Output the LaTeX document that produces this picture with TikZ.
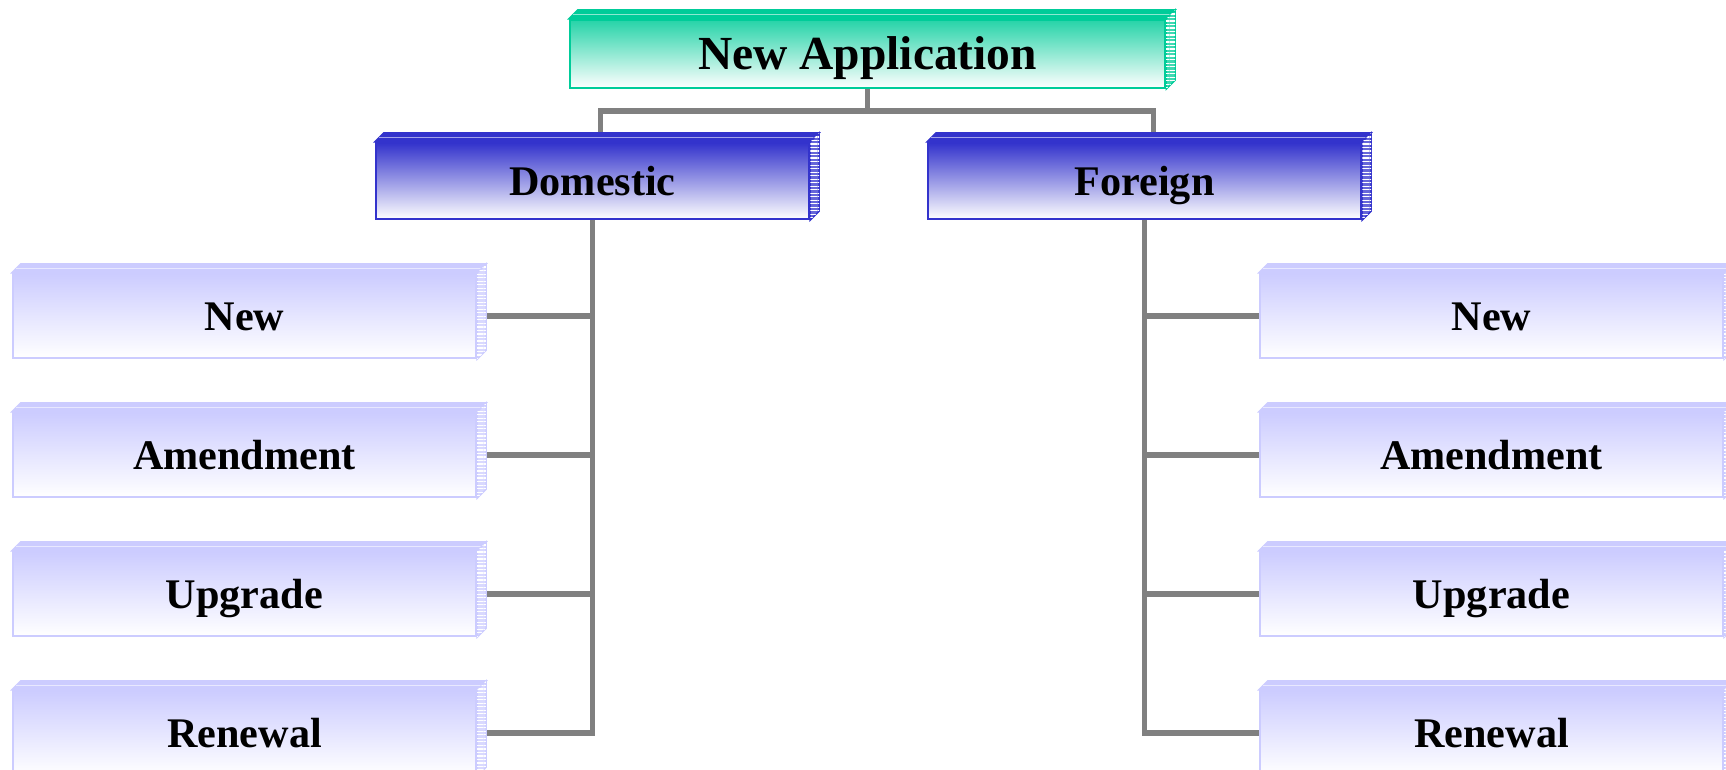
\documentclass[tikz,border=0pt]{standalone}
\usepackage{fontspec}
\setmainfont{Liberation Serif}
\usetikzlibrary{patterns.meta}

\definecolor{appcol}{HTML}{00CC99}
\definecolor{groupcol}{HTML}{3333CC}
\definecolor{leafcol}{HTML}{CCCCFF}
\definecolor{linkcol}{HTML}{808080}

\begin{document}
\begin{tikzpicture}[
    x=0.01cm, y=-0.01cm,
    box/.style={draw, line width=0.6pt, inner sep=0pt,
        text height=1.07em, text depth=0.25em},
    appbox/.style={box, draw=appcol, top color=appcol!85, bottom color=white,
        minimum width=5.95cm, minimum height=0.68cm, text height=1.14em,
        font=\bfseries\fontsize{13.5}{16}\selectfont},
    groupbox/.style={box, draw=groupcol, top color=groupcol, bottom color=white,
        minimum width=4.33cm, minimum height=0.76cm,
        font=\bfseries\fontsize{12}{14}\selectfont},
    leafbox/.style={box, draw=leafcol, top color=leafcol, bottom color=white,
        minimum width=4.63cm, minimum height=0.84cm,
        font=\bfseries\fontsize{12}{14}\selectfont},
    link/.style={draw=linkcol, line width=1.5pt}
]

\path[use as bounding box, fill=white] (0,0) rectangle (1726,770);

\node[appbox] (app) at (867.5,54) {New Application};

\node[groupbox] (dom) at (592.5,181) {Domestic};
\node[groupbox] (for) at (1144.5,181) {Foreign};

\foreach \lbl [count=\i] in {New, Amendment, Upgrade, Renewal} {
  \node[leafbox] (dl\i) at (244.5,177+139*\i) {\lbl};
  \node[leafbox] (fl\i) at (1491.5,177+139*\i) {\lbl};
}

% tree lines
\draw[link] (app.south) -- ++(0,22) coordinate (split);
\draw[link] ([shift={(8,0)}]dom.north) |- (split) -| ([shift={(9,0)}]for.north);
\foreach \i in {1,...,4} {
  \draw[link] (dom.south) |- (dl\i.east);
  \draw[link] (for.south) |- (fl\i.west);
}

% top and side faces
\foreach \n/\c in {app/appcol, dom/groupcol, for/groupcol,
    dl1/leafcol, dl2/leafcol, dl3/leafcol, dl4/leafcol,
    fl1/leafcol, fl2/leafcol, fl3/leafcol, fl4/leafcol} {
  \filldraw[draw=\c, fill=\c, line width=0.4pt]
    (\n.north west) -- ++(9,-9) -- ([shift={(9,-9)}]\n.north east)
    -- (\n.north east) -- cycle;
  \draw[white!55!\c, line width=0.5pt]
    ([shift={(4.5,-4.5)}]\n.north west) -- ([shift={(4.5,-4.5)}]\n.north east);
  \filldraw[draw=\c, fill=\c!75, line width=0.4pt,
    postaction={pattern={Lines[angle=0, distance=1pt, line width=0.35pt]},
      pattern color=white}]
    (\n.north east) -- ++(9,-9) -- ([shift={(9,-9)}]\n.south east)
    -- (\n.south east) -- cycle;
}

\end{tikzpicture}
\end{document}
